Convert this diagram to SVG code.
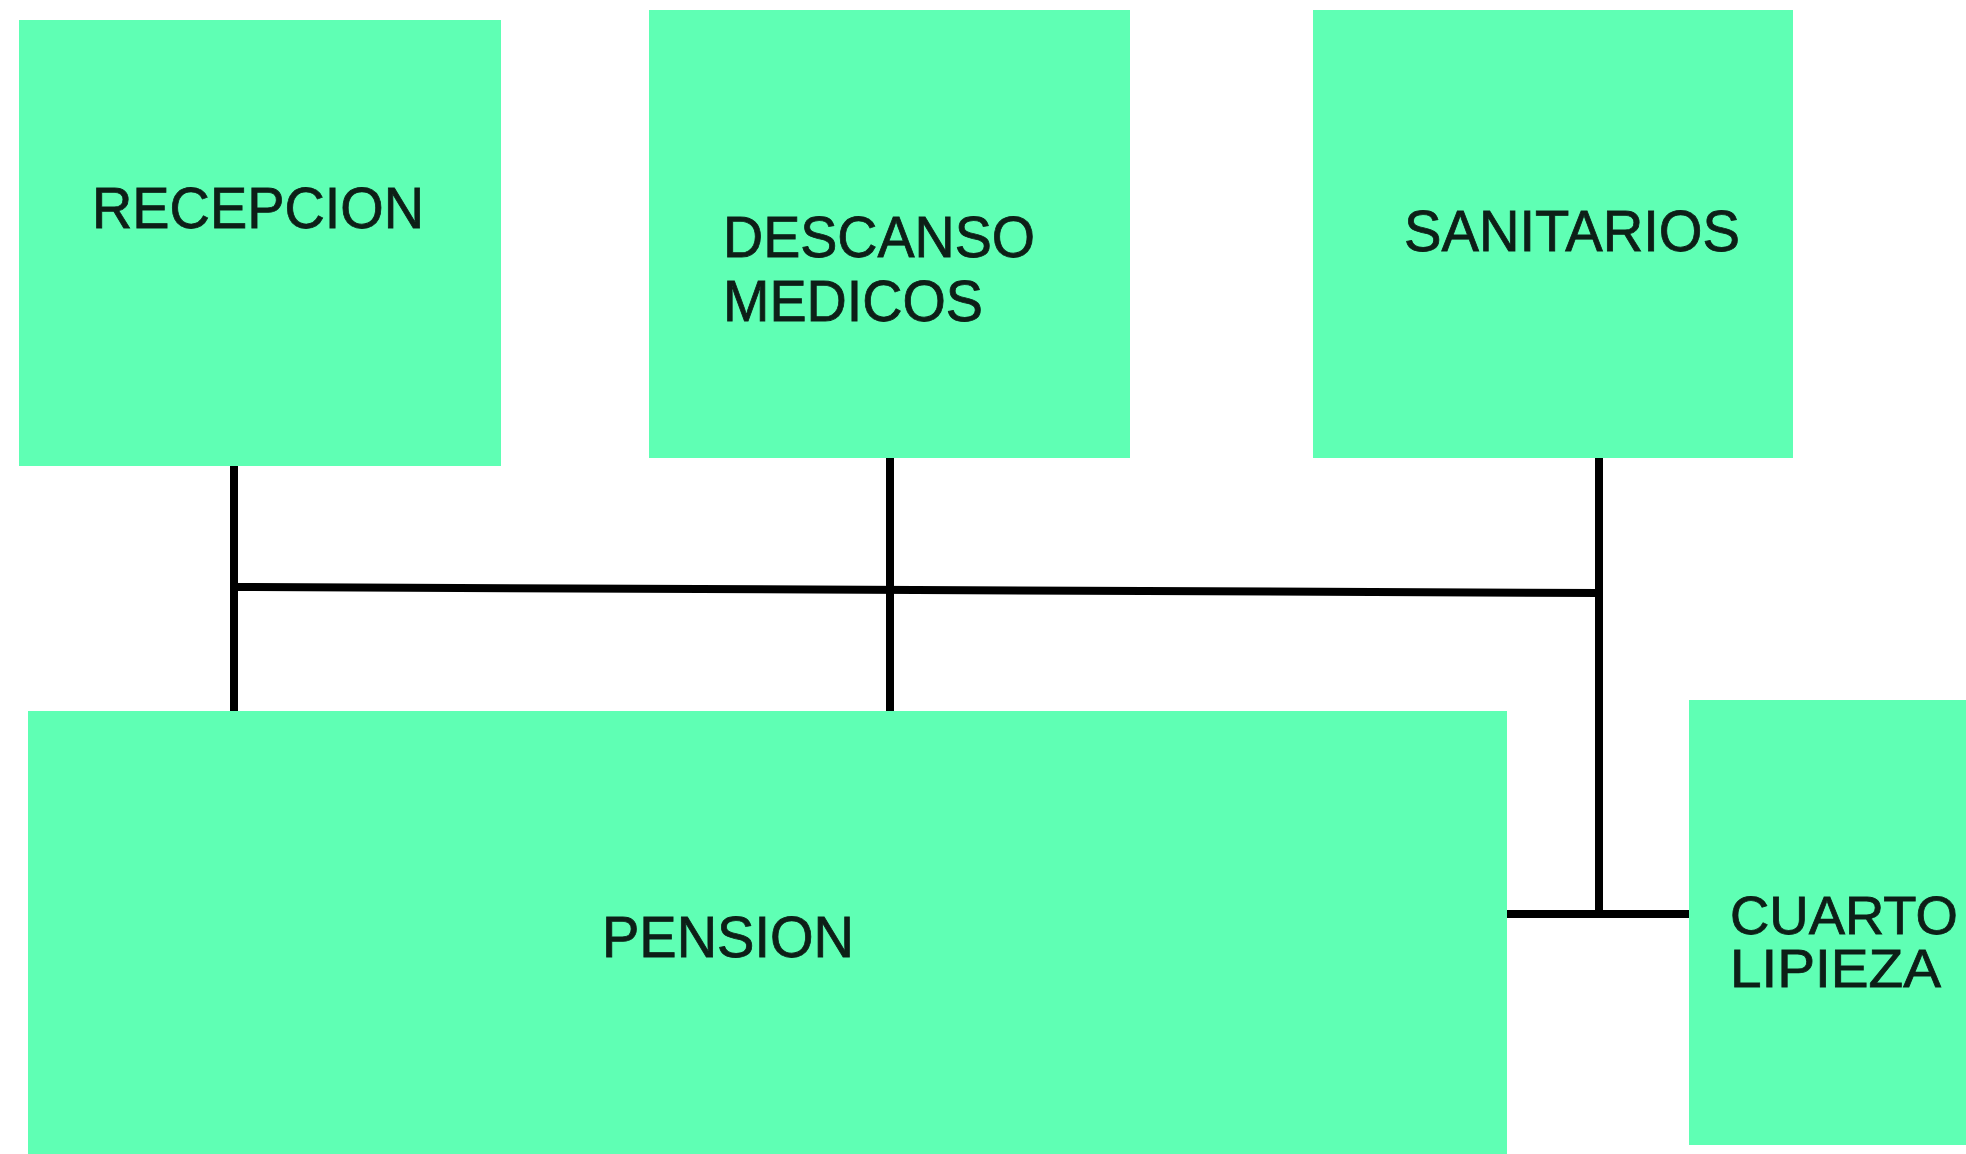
<svg xmlns="http://www.w3.org/2000/svg" width="1966" height="1154" viewBox="0 0 1966 1154">
<style>
.box{fill:#5fffb4}
.lbl{font-family:"Liberation Sans",Arial,sans-serif;font-size:57px;fill:#0d1f17;stroke:#0d1f17;stroke-width:0.8}
.sm{font-size:53px}
.con{stroke:#000;stroke-width:8;fill:none}
</style>
<rect width="1966" height="1154" fill="#fff"/>
<g id="connectors">
<line class="con" x1="234" y1="466" x2="234" y2="712"/>
<line class="con" x1="890" y1="458" x2="890" y2="712"/>
<line class="con" x1="1599" y1="458" x2="1599" y2="914"/>
<line class="con" x1="234" y1="587" x2="1599" y2="593"/>
<line class="con" x1="1507" y1="914" x2="1690" y2="914"/>
</g>
<g id="recepcion">
<rect class="box" x="19" y="20" width="482" height="446"/>
<text class="lbl" x="92" y="228" textLength="332" lengthAdjust="spacingAndGlyphs">RECEPCION</text>
</g>
<g id="descanso">
<rect class="box" x="649" y="10" width="481" height="448"/>
<text class="lbl"><tspan x="723" y="257" textLength="312" lengthAdjust="spacingAndGlyphs">DESCANSO</tspan><tspan x="723" y="321" textLength="260" lengthAdjust="spacingAndGlyphs">MEDICOS</tspan></text>
</g>
<g id="sanitarios">
<rect class="box" x="1313" y="10" width="480" height="448"/>
<text class="lbl" x="1404" y="251" textLength="336" lengthAdjust="spacingAndGlyphs">SANITARIOS</text>
</g>
<g id="pension">
<rect class="box" x="28" y="711" width="1479" height="443"/>
<text class="lbl" x="602" y="957" textLength="252" lengthAdjust="spacingAndGlyphs">PENSION</text>
</g>
<g id="cuarto">
<rect class="box" x="1689" y="700" width="277" height="445"/>
<text class="lbl sm"><tspan x="1730" y="934" textLength="228" lengthAdjust="spacingAndGlyphs">CUARTO</tspan><tspan x="1730" y="987" textLength="211" lengthAdjust="spacingAndGlyphs">LIPIEZA</tspan></text>
</g>
</svg>
